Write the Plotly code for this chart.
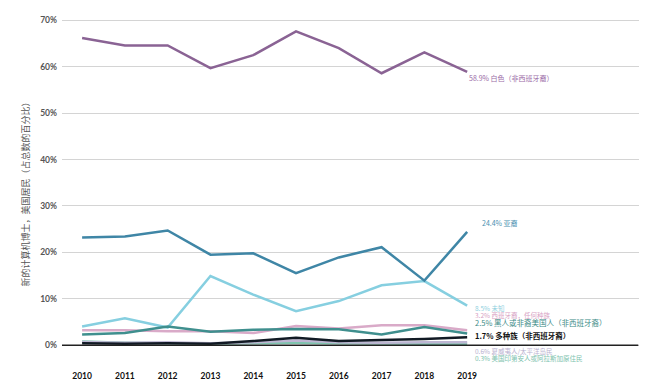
import plotly.graph_objects as go

years = [2010, 2011, 2012, 2013, 2014, 2015, 2016, 2017, 2018, 2019]
white = [66.2, 64.6, 64.6, 59.7, 62.5, 67.6, 64.0, 58.6, 63.1, 58.9]
asian = [23.2, 23.4, 24.7, 19.5, 19.8, 15.5, 18.9, 21.1, 13.9, 24.4]
unknown = [4.0, 5.8, 3.8, 14.9, 10.9, 7.3, 9.5, 12.9, 13.8, 8.5]
hispanic = [3.2, 3.2, 3.0, 3.0, 2.6, 4.1, 3.6, 4.3, 4.3, 3.2]
black = [2.3, 2.6, 4.0, 2.9, 3.3, 3.5, 3.4, 2.3, 3.9, 2.5]
multi = [0.4, 0.3, 0.4, 0.3, 0.9, 1.6, 0.9, 1.1, 1.3, 1.7]
hawaiian = [0.7, 0.5, 0.6, 0.4, 0.6, 1.0, 0.6, 0.5, 0.6, 0.6]
amind = [0.8, 0.5, 0.4, 0.3, 0.4, 0.5, 0.4, 0.3, 0.3, 0.3]

names = ["白色（非西班牙裔）", "亚裔", "未知", "西班牙裔，任何种族",
         "黑人或非裔美国人（非西班牙裔）", "多种族（非西班牙裔）",
         "夏威夷人/太平洋岛民", "美国印第安人或阿拉斯加原住民"]
series = [white, asian, unknown, hispanic, black, multi, hawaiian, amind]
y_ticks = [0, 10, 20, 30, 40, 50, 60, 70]
y_title = "新的计算机博士，美国居民（占总数的百分比）"

# styling (not data)
line_colors = ["#8a6394", "#3f86a6", "#86cfe0", "#d9aac8", "#3f8f8e", "#111a24", "#bdb6d2", "#7fc4ae"]
text_colors = ["#9a6aa6", "#4a8fb0", "#8fd0de", "#d8a2c4", "#3a8a86", "#111111", "#b9b1d0", "#7cc2ad"]
# label anchor positions in paper coordinates
label_pos = [(0.700, 0.818), (0.723, 0.378), (0.711, 0.119), (0.711, 0.098),
             (0.711, 0.0745), (0.711, 0.0335), (0.711, -0.0107), (0.711, -0.032)]
label_sizes = [7, 7, 6.5, 6.5, 7.5, 7.5, 6.5, 6.5]
label_bold = [False, False, False, False, False, True, False, False]
draw_order = [7, 6, 3, 2, 4, 5, 1, 0]

FONT = "Lato, 'Noto Sans CJK SC', sans-serif"
CJK = "'Noto Sans CJK SC', sans-serif"

fig = go.Figure()
for i in draw_order:
    fig.add_trace(go.Scatter(x=years, y=series[i], mode="lines",
                             line=dict(color=line_colors[i], width=2.5),
                             name=names[i], showlegend=False, hoverinfo="skip"))

for i, nm in enumerate(names):
    txt = f"{series[i][-1]:.1f}% {nm}"
    if label_bold[i]:
        txt = f"<b>{txt}</b>"
    fig.add_annotation(x=label_pos[i][0], y=label_pos[i][1], xref="paper", yref="paper",
                       text=txt, showarrow=False, xanchor="left", yanchor="middle",
                       font=dict(family=CJK, size=label_sizes[i], color=text_colors[i]))

# baseline
fig.add_shape(type="line", xref="paper", yref="y", x0=0, x1=0.997, y0=0, y1=0,
              line=dict(color="#222222", width=1.5), layer="above")

fig.add_annotation(xref="paper", yref="paper", x=-0.064, y=0.47,
                   text=y_title, textangle=-90, showarrow=False,
                   font=dict(family=CJK, size=9, color="#555555"),
                   xanchor="center", yanchor="middle")

fig.update_layout(
    width=639, height=375,
    margin=dict(l=54, r=7, t=10, b=36, autoexpand=False),
    paper_bgcolor="white", plot_bgcolor="white",
    showlegend=False,
    xaxis=dict(range=[2009.53, 2023.04], tickmode="array", tickvals=years,
               ticktext=[str(y) for y in years], showgrid=False, zeroline=False,
               showline=False, ticks="", ticklabelstandoff=22, automargin=False,
               tickfont=dict(family=FONT, size=8.5, color="#111111", weight="bold")),
    yaxis=dict(range=[-0.4, 70.5], tickmode="array", tickvals=y_ticks,
               ticktext=[f"{v}%" for v in y_ticks], showgrid=True,
               gridcolor="#d4d4d4", gridwidth=1, zeroline=False, showline=False,
               ticks="", ticklabelstandoff=4, automargin=False,
               tickfont=dict(family=FONT, size=8.5, color="#555555", weight="bold")),
)

fig.write_html("out.html")
